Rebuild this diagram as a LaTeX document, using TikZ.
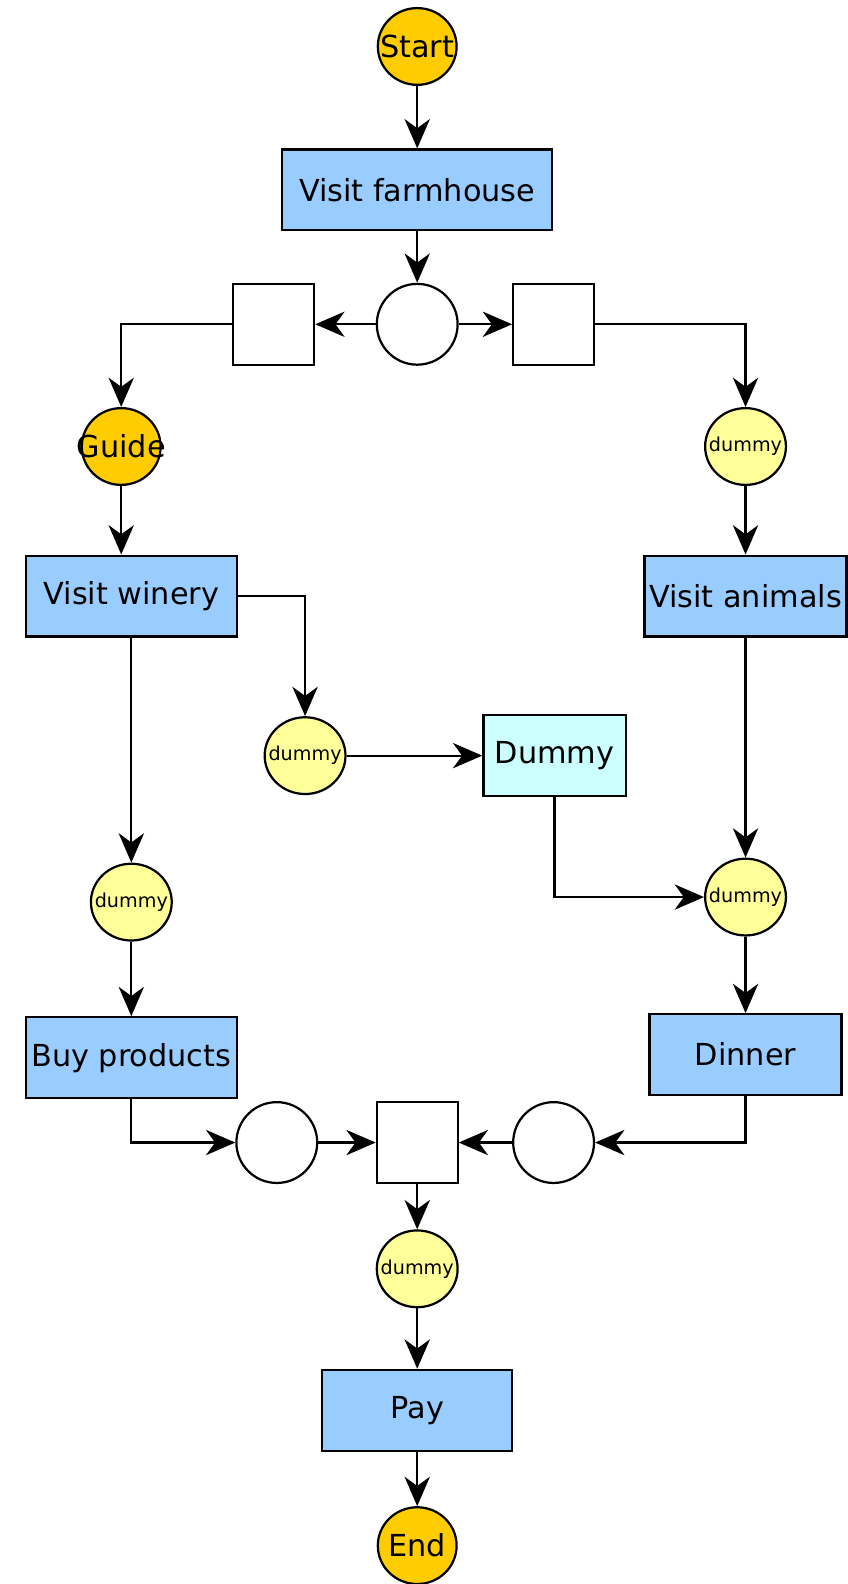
\documentclass[tikz,border=0pt]{standalone}
\usepackage{fontspec}
\setmainfont{DejaVu Sans}
\usepackage{tikz}
\usetikzlibrary{arrows.meta, positioning, calc, shapes.geometric}

\definecolor{gold}{HTML}{FFCC00}
\definecolor{lemon}{HTML}{FFFF99}
\definecolor{sky}{HTML}{99CCFF}
\definecolor{ice}{HTML}{CCFFFF}

\begin{document}
\begin{tikzpicture}[x=1pt, y=1pt, line width=2.2pt,
		every node/.style={font=\fontsize{30}{34}\selectfont, line width=2.2pt},
		task/.style={draw, rectangle, fill=sky, minimum height=80pt, inner sep=0pt},
		cond/.style={draw, ellipse, fill=lemon, minimum width=80pt, minimum height=76pt, inner sep=0pt, font=\fontsize{19}{22}\selectfont},
		ends/.style={draw, ellipse, fill=gold, minimum width=78pt, minimum height=76pt, inner sep=0pt},
		place/.style={draw, circle, minimum size=80pt, inner sep=0pt},
		trans/.style={draw, rectangle, minimum size=80pt, inner sep=0pt},
		flow/.style={-{Stealth[length=29pt, width=25pt, inset=9pt]}}]
		\useasboundingbox (0,0) rectangle (839,-1568);
		\node[ends] (start) at (413,-46) {\makebox[0pt]{Start}};
		\node[task, minimum width=267pt] (farm) at (413,-188) {Visit farmhouse};
		\node[place] (p0) at (413,-321) {};
		\node[trans] (tl) at (271,-321) {};
		\node[trans] (tr) at (548,-321) {};
		\node[ends] (guide) at (120,-442) {\makebox[0pt]{Guide}};
		\node[cond] (dum1) at (738,-442) {\makebox[0pt]{dummy}};
		\node[task, minimum width=209pt] (winery) at (130,-590) {Visit winery};
		\node[task, minimum width=200pt] (animals) at (738,-590) {Visit animals};
		\node[cond] (dum2) at (302,-748) {\makebox[0pt]{dummy}};
		\node[task, fill=ice, minimum width=141pt] (dbox) at (549,-748) {Dummy};
		\node[cond] (dum3) at (130,-893) {\makebox[0pt]{dummy}};
		\node[cond] (dum4) at (738,-888) {\makebox[0pt]{dummy}};
		\node[task, minimum width=209pt] (buy) at (130,-1047) {Buy products};
		\node[task, minimum width=190pt] (dinner) at (738,-1044) {Dinner};
		\node[place] (p1) at (274,-1131) {};
		\node[trans] (t2) at (413,-1131) {};
		\node[place] (p2) at (548,-1131) {};
		\node[cond] (dum5) at (413,-1256) {\makebox[0pt]{dummy}};
		\node[task, minimum width=188pt] (pay) at (413,-1396) {Pay};
		\node[ends] (end) at (413,-1530) {\makebox[0pt]{End}};
		\draw[flow] (start) -- (farm); \draw[flow] (farm) -- (p0);
		\draw[flow] (p0) -- (tl); \draw[flow] (p0) -- (tr);
		\draw[flow] (tl) -| (guide); \draw[flow] (tr) -| (dum1);
		\draw[flow] (guide) -- (guide |- winery.north);
		\draw[flow] (winery) -| (dum2); \draw[flow] (dum2) -- (dbox);
		\draw[flow] (dbox) |- (dum4);
		\draw[flow] (dum1) -- (animals); \draw[flow] (animals) -- (dum4); \draw[flow] (dum4) -- (dinner);
		\draw[flow] (winery) -- (dum3); \draw[flow] (dum3) -- (buy);
		\draw[flow] (buy) |- (p1); \draw[flow] (p1) -- (t2);
		\draw[flow] (dinner) |- (p2); \draw[flow] (p2) -- (t2);
		\draw[flow] (t2) -- (dum5); \draw[flow] (dum5) -- (pay); \draw[flow] (pay) -- (end);
	\end{tikzpicture}
\end{document}
